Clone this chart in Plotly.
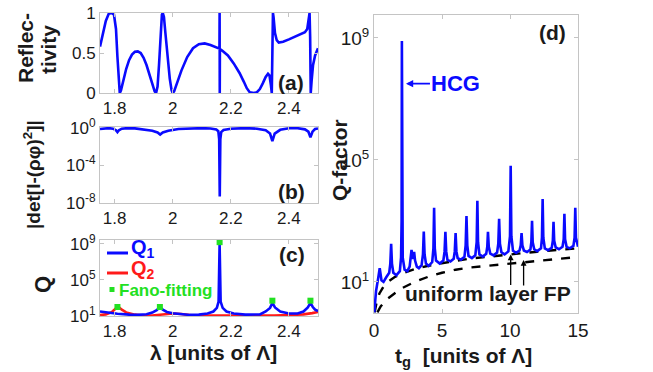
import plotly.graph_objects as go

# ---------------- data ----------------
# (a) reflectivity vs wavelength
lam_R = [1.750, 1.760, 1.770, 1.780, 1.790, 1.798, 1.805, 1.810, 1.814, 1.818, 1.822, 1.830,
         1.840, 1.850, 1.860, 1.870, 1.880, 1.890, 1.900, 1.910, 1.920, 1.930, 1.938, 1.943,
         1.948, 1.953, 1.958, 1.963, 1.966, 1.970, 1.975, 1.982, 1.990, 1.996, 2.000, 2.005,
         2.015, 2.030, 2.050, 2.070, 2.090, 2.110, 2.130, 2.150, 2.1610, 2.1615, 2.1620, 2.1625,
         2.170, 2.190, 2.210, 2.230, 2.245, 2.255, 2.265, 2.280, 2.290, 2.300, 2.310, 2.320,
         2.328, 2.333, 2.338, 2.341, 2.343, 2.345, 2.347, 2.352, 2.358, 2.365, 2.380, 2.400,
         2.420, 2.440, 2.455, 2.463, 2.468, 2.471, 2.473, 2.475, 2.478, 2.483, 2.490, 2.500]
R_val = [0.58, 0.75, 0.90, 0.99, 1.00, 0.98, 0.80, 0.45, 0.15, 0.00, 0.03, 0.15,
         0.30, 0.41, 0.48, 0.515, 0.52, 0.50, 0.44, 0.35, 0.23, 0.10, 0.02, 0.00,
         0.08, 0.35, 0.75, 0.98, 1.00, 0.95, 0.75, 0.45, 0.18, 0.04, 0.00, 0.02,
         0.12, 0.28, 0.45, 0.56, 0.61, 0.62, 0.60, 0.57, 0.555, 1.00, 0.00, 0.55,
         0.53, 0.47, 0.37, 0.25, 0.14, 0.06, 0.01, 0.00, 0.01, 0.05, 0.12, 0.20,
         0.24, 0.22, 0.10, 0.00, 0.50, 1.00, 0.95, 0.75, 0.66, 0.63, 0.64, 0.67,
         0.70, 0.73, 0.76, 0.80, 0.90, 1.00, 0.70, 0.00, 0.15, 0.35, 0.47, 0.56]

# resonance wavelengths (arrows between (a) and (b))
lam_res = [1.810, 1.960, 2.162, 2.343, 2.474]

# (b) log10 |det[I-(rho phi)^2]|
lam_D = [1.750, 1.765, 1.780, 1.795, 1.805, 1.810, 1.815, 1.825, 1.845, 1.870, 1.900, 1.930,
         1.948, 1.957, 1.966, 1.985, 2.020, 2.060, 2.100, 2.130, 2.150, 2.157, 2.160, 2.162,
         2.164, 2.167, 2.175, 2.200, 2.250, 2.290, 2.320, 2.335, 2.343, 2.351, 2.370, 2.400,
         2.430, 2.455, 2.467, 2.474, 2.481, 2.490, 2.500]
logD = [-0.12, -0.04, -0.02, -0.08, -0.25, -0.45, -0.25, -0.08, -0.02, -0.05, -0.15, -0.30,
        -0.48, -0.70, -0.48, -0.30, -0.12, -0.03, -0.02, -0.06, -0.16, -0.35, -1.2, -7.3,
        -1.2, -0.45, -0.22, -0.08, -0.02, -0.08, -0.25, -0.60, -1.40, -0.60, -0.20, -0.04,
        -0.03, -0.15, -0.40, -1.00, -0.40, -0.12, -0.05]

# (c) log10 Q vs wavelength
lam_Q1 = [1.750, 1.780, 1.810, 1.850, 1.880, 1.910, 1.930, 1.945, 1.956, 1.966, 1.980, 2.000,
          2.030, 2.060, 2.090, 2.120, 2.140, 2.152, 2.158, 2.1615, 2.165, 2.172, 2.185, 2.210,
          2.250, 2.280, 2.300, 2.320, 2.335, 2.343, 2.352, 2.370, 2.400, 2.430, 2.450, 2.465,
          2.474, 2.482, 2.490, 2.500]
logQ1 = [1.50, 1.35, 1.25, 1.15, 1.12, 1.20, 1.38, 1.65, 2.00, 1.70, 1.45, 1.30,
         1.18, 1.12, 1.15, 1.28, 1.50, 1.90, 2.60, 9.00, 2.60, 1.90, 1.50, 1.28,
         1.15, 1.12, 1.18, 1.50, 1.90, 2.45, 1.95, 1.50, 1.28, 1.28, 1.50, 1.95,
         2.45, 2.00, 1.70, 1.55]
lam_Q2 = [1.750, 1.770, 1.790, 1.800, 1.812, 1.825, 1.840, 1.870, 1.900, 1.930, 1.960, 2.000,
          2.030, 2.060, 2.100, 2.200, 2.300, 2.350, 2.400, 2.450, 2.480, 2.500]
logQ2 = [1.10, 1.18, 1.42, 1.70, 2.05, 1.70, 1.40, 1.15, 1.05, 1.06, 1.15, 1.28,
         1.22, 1.10, 1.04, 1.02, 1.04, 1.06, 1.10, 1.18, 1.32, 1.45]
lam_fano = [1.810, 1.956, 2.1615, 2.343, 2.474]
logQ_fano = [2.00, 2.00, 9.20, 2.70, 2.70]

# (d) log10 Q-factor vs grating thickness t_g
t_hcg = [0.02, 0.15, 0.30, 0.42, 0.55, 0.70, 0.90, 1.12, 1.20, 1.26, 1.32, 1.42, 1.65, 1.90,
         1.99, 2.03, 2.05, 2.07, 2.11, 2.25, 2.45, 2.62, 2.70, 2.76, 2.84, 2.90, 2.95, 3.02,
         3.15, 3.30, 3.50, 3.60, 3.66, 3.72, 3.82, 4.02, 4.28, 4.37, 4.42, 4.47, 4.56, 4.83,
         5.10, 5.19, 5.25, 5.31, 5.40, 5.62, 5.86, 5.94, 6.00, 6.06, 6.15, 6.40, 6.65, 6.74,
         6.80, 6.86, 6.95, 7.20, 7.45, 7.55, 7.60, 7.65, 7.75, 8.00, 8.25, 8.33, 8.38, 8.44,
         8.55, 8.80, 9.05, 9.14, 9.20, 9.26, 9.37, 9.60, 9.88, 10.00, 10.05, 10.10, 10.22,
         10.45, 10.70, 10.79, 10.85, 10.91, 11.02, 11.25, 11.50, 11.57, 11.62, 11.67, 11.78,
         12.00, 12.28, 12.35, 12.40, 12.45, 12.56, 12.80, 13.07, 13.15, 13.20, 13.25, 13.36,
         13.60, 13.86, 13.95, 14.00, 14.05, 14.16, 14.40, 14.66, 14.75, 14.80, 14.85, 14.95,
         15.00]
logQ_hcg = [0.00, 0.70, 1.10, 1.45, 1.05, 1.00, 1.15, 1.30, 1.60, 2.25, 1.60, 1.30, 1.22, 1.35,
            1.80, 3.00, 8.90, 3.00, 1.80, 1.40, 1.35, 1.50, 1.80, 2.05, 1.75, 1.85, 1.98, 1.70,
            1.50, 1.45, 1.55, 1.90, 2.65, 1.90, 1.60, 1.52, 1.65, 2.10, 3.43, 2.10, 1.70, 1.60,
            1.70, 2.00, 2.64, 2.00, 1.72, 1.67, 1.76, 2.00, 2.60, 2.00, 1.78, 1.73, 1.82, 2.20,
            3.16, 2.20, 1.85, 1.78, 1.87, 2.30, 3.66, 2.30, 1.90, 1.83, 1.92, 2.15, 2.64, 2.15,
            1.93, 1.87, 1.96, 2.25, 3.07, 2.25, 1.97, 1.90, 2.00, 2.50, 4.81, 2.50, 2.02,
            1.95, 2.03, 2.20, 2.60, 2.20, 2.03, 1.98, 2.06, 2.30, 3.00, 2.30, 2.07,
            2.01, 2.10, 2.45, 3.72, 2.45, 2.10, 2.04, 2.12, 2.35, 2.97, 2.35, 2.13,
            2.07, 2.15, 2.40, 3.23, 2.40, 2.15, 2.10, 2.18, 2.45, 3.43, 2.45, 2.20,
            2.15]
t_fp_max = [0.05, 0.20, 0.40, 0.70, 1.0, 1.5, 2.0, 3.0, 4.0, 5.0, 6.0, 7.0, 8.0, 9.0, 10.0,
            11.0, 12.0, 13.0, 14.0, 15.0]
logQ_fp_max = [0.00, 0.35, 0.62, 0.85, 1.00, 1.15, 1.27, 1.42, 1.53, 1.62, 1.69, 1.76, 1.81,
               1.86, 1.91, 1.95, 1.99, 2.03, 2.07, 2.10]
t_fp_min = [0.25, 0.50, 1.0, 1.5, 2.0, 3.0, 4.0, 5.0, 6.0, 7.0, 8.0, 9.0, 10.0, 11.0, 12.0,
            13.0, 14.0, 15.0]
logQ_fp_min = [0.00, 0.20, 0.45, 0.62, 0.78, 1.00, 1.17, 1.30, 1.40, 1.47, 1.52, 1.56, 1.60,
               1.64, 1.69, 1.74, 1.78, 1.82]

lam_ticks = [1.8, 2.0, 2.2, 2.4]
lam_ticktext = ["1.8", "2", "2.2", "2.4"]
t_ticks = [0, 5, 10, 15]

# ---------------- figure ----------------
W, H = 653, 372
BLUE = "#0a0aff"
RED = "#ff1a1a"
GREEN = "#22e022"
FRAME = "#c4c4c4"
TXT = "#1a1a1a"
FONT = "Liberation Sans, Arial, sans-serif"


def px(x):
    return x / W


def py(y):
    return 1 - y / H


fig = go.Figure()
fig.add_trace(go.Scatter(x=lam_R, y=R_val, mode="lines", line=dict(color=BLUE, width=2.6),
                         xaxis="x", yaxis="y", showlegend=False))
fig.add_trace(go.Scatter(x=lam_D, y=[10 ** v for v in logD], mode="lines",
                         line=dict(color=BLUE, width=2.6), xaxis="x2", yaxis="y2", showlegend=False))
fig.add_trace(go.Scatter(x=lam_Q2, y=[10 ** v for v in logQ2], mode="lines",
                         line=dict(color=RED, width=2.6), xaxis="x3", yaxis="y3", showlegend=False))
fig.add_trace(go.Scatter(x=lam_Q1, y=[10 ** v for v in logQ1], mode="lines",
                         line=dict(color=BLUE, width=2.6), xaxis="x3", yaxis="y3", showlegend=False))
fig.add_trace(go.Scatter(x=lam_fano, y=[10 ** v for v in logQ_fano], mode="markers",
                         marker=dict(color=GREEN, size=6, symbol="square"),
                         xaxis="x3", yaxis="y3", showlegend=False, cliponaxis=False))
fig.add_trace(go.Scatter(x=t_fp_max, y=[10 ** v for v in logQ_fp_max], mode="lines",
                         line=dict(color="black", width=2.4, dash="dash"),
                         xaxis="x4", yaxis="y4", showlegend=False))
fig.add_trace(go.Scatter(x=t_fp_min, y=[10 ** v for v in logQ_fp_min], mode="lines",
                         line=dict(color="black", width=2.4, dash="dash"),
                         xaxis="x4", yaxis="y4", showlegend=False))
fig.add_trace(go.Scatter(x=t_hcg, y=[10 ** v for v in logQ_hcg], mode="lines",
                         line=dict(color=BLUE, width=2.6), xaxis="x4", yaxis="y4", showlegend=False))

xdom_left = [px(100), px(318)]
common = dict(showline=True, linecolor=FRAME, linewidth=1, mirror="ticks", ticks="inside",
              ticklen=4, tickcolor=FRAME, showgrid=False, zeroline=False, automargin=False,
              tickfont=dict(family=FONT, size=17, color=TXT))
big = {**common, "tickfont": dict(family=FONT, size=19, color=TXT)}

layout = dict(
    width=W, height=H, autosize=False,
    margin=dict(l=0, r=0, t=0, b=0, pad=0, autoexpand=False),
    paper_bgcolor="white", plot_bgcolor="white", showlegend=False,
    xaxis=dict(domain=xdom_left, range=[1.75, 2.5], anchor="y", tickvals=lam_ticks,
               ticktext=lam_ticktext, **common),
    yaxis=dict(domain=[py(93), py(13)], range=[0, 1], anchor="x", tickvals=[0, 0.5, 1],
               ticktext=["0", "0.5", "1"], **common),
    xaxis2=dict(domain=xdom_left, range=[1.75, 2.5], anchor="y2", tickvals=lam_ticks,
                ticktext=lam_ticktext, **common),
    yaxis2=dict(domain=[py(203), py(127)], type="log", range=[-8, 0.1], anchor="x2",
                tickvals=[1e-8, 1e-4, 1],
                ticktext=["10<sup>-8</sup>", "10<sup>-4</sup>", "10<sup>0</sup>"], **common),
    xaxis3=dict(domain=xdom_left, range=[1.75, 2.5], anchor="y3", tickvals=lam_ticks,
                ticktext=lam_ticktext, **common),
    yaxis3=dict(domain=[py(316), py(240)], type="log", range=[1.0, 9.44], anchor="x3",
                tickvals=[1e1, 1e5, 1e9],
                ticktext=["10<sup>1</sup>", "10<sup>5</sup>", "10<sup>9</sup>"], **common),
    xaxis4=dict(domain=[px(374), px(578)], range=[0, 15], anchor="y4", tickvals=t_ticks, **big),
    yaxis4=dict(domain=[py(313), py(15)], type="log", range=[-0.02, 9.75], anchor="x4",
                tickvals=[1e1, 1e5, 1e9],
                ticktext=["10<sup>1</sup>", "10<sup>5</sup>", "10<sup>9</sup>"], **big),
)
fig.update_layout(**layout)

ann = []


def text(x, y, s, size=21, color=TXT, angle=0, xanchor="center", bold=True):
    ann.append(dict(x=px(x), y=py(y), xref="paper", yref="paper", showarrow=False,
                    text=(f"<b>{s}</b>" if bold else s), textangle=angle, xanchor=xanchor,
                    yanchor="middle", font=dict(family=FONT, size=size, color=color)))


text(25, 48, "Reflec-", 21, angle=-90)
text(48, 50, "tivity", 21, angle=-90)
text(32, 175, "|det[I-(ρφ)<sup>2</sup>]|", 19, angle=-90)
text(42, 285, "Q", 22, angle=-90)
text(213, 352, "λ [units of Λ]", 21)
text(339, 160, "Q-factor", 21, angle=-90)
text(463, 357, "t<sub>g</sub>  [units of Λ]", 21)
text(291, 82, "(a)", 21)
text(291, 191, "(b)", 21)
text(292, 255, "(c)", 21)
text(552, 32, "(d)", 21)
text(488, 293, "uniform layer FP", 21)
text(129, 249, "Q<sub>1</sub>", 20, color=BLUE, xanchor="left")
text(129, 269, "Q<sub>2</sub>", 20, color=RED, xanchor="left")
text(117, 290, "Fano-fitting", 17, color=GREEN, xanchor="left")

# resonance arrows between panels (a) and (b)
for r in lam_res:
    ann.append(dict(x=r, y=-0.03, xref="x", yref="y", ax=0, ay=30, axref="pixel", ayref="pixel",
                    text="", showarrow=True, arrowhead=2, arrowsize=0.9, arrowwidth=1,
                    arrowcolor="#a8a8f4"))

# panel (d) arrows
ann.append(dict(x=2.35, y=7.5, xref="x4", yref="y4", ax=50, ay=0, text="<b>HCG</b>",
                showarrow=True, arrowhead=2, arrowsize=0.9, arrowwidth=1.6, arrowcolor=BLUE,
                font=dict(family=FONT, size=22, color=BLUE)))
ann.append(dict(x=15.25, y=2.18, xref="x4", yref="y4", ax=38, ay=-12, text="<b>max</b>",
                showarrow=True, arrowhead=2, arrowsize=0.9, arrowwidth=1.3, arrowcolor="black",
                font=dict(family=FONT, size=22, color=TXT)))
ann.append(dict(x=15.3, y=1.89, xref="x4", yref="y4", ax=38, ay=7, text="<b>min</b>",
                showarrow=True, arrowhead=2, arrowsize=0.9, arrowwidth=1.3, arrowcolor="black",
                font=dict(family=FONT, size=22, color=TXT)))
ann.append(dict(x=10.05, y=1.9, xref="x4", yref="y4", ax=0, ay=32, text="",
                showarrow=True, arrowhead=2, arrowsize=0.9, arrowwidth=1.3, arrowcolor="black"))
ann.append(dict(x=11.0, y=1.72, xref="x4", yref="y4", ax=0, ay=27, text="",
                showarrow=True, arrowhead=2, arrowsize=0.9, arrowwidth=1.3, arrowcolor="black"))

fig.update_layout(annotations=ann)

# legend samples of panel (c)
shapes = [
    dict(type="line", xref="paper", yref="paper", x0=px(107), x1=px(128), y0=py(253), y1=py(253),
         line=dict(color=BLUE, width=3)),
    dict(type="line", xref="paper", yref="paper", x0=px(107), x1=px(128), y0=py(273), y1=py(273),
         line=dict(color=RED, width=3)),
    dict(type="rect", xref="paper", yref="paper", x0=px(109.5), x1=px(114.5), y0=py(292),
         y1=py(287), fillcolor=GREEN, line=dict(width=0)),
]
fig.update_layout(shapes=shapes)

fig.write_html("out.html", config={"displayModeBar": False},
               post_script="document.body.style.margin='0px';document.body.style.padding='0px';")
